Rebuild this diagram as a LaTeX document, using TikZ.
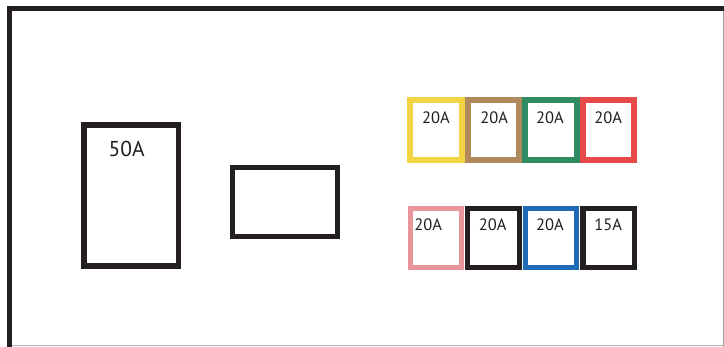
\documentclass[tikz,border=0pt]{standalone}
\usepackage{fontspec}
\setmainfont{PT Sans}
\definecolor{frameblack}{HTML}{231F20}
\definecolor{fyellow}{HTML}{F2D544}
\definecolor{fbrown}{HTML}{B08A5C}
\definecolor{fgreen}{HTML}{2E8B62}
\definecolor{fred}{HTML}{E84A4A}
\definecolor{fpink}{HTML}{E8959C}
\definecolor{fblue}{HTML}{1F6BB5}
\tikzset{
  fusetop/.style={draw=#1, line width=6pt, minimum width=51.5pt, minimum height=60pt, inner sep=0pt, rectangle},
  fusebot/.style={draw=#1, line width=5.3pt, minimum width=51.5pt, minimum height=59pt, inner sep=0pt, rectangle},
  fuselabel/.style={anchor=base, inner sep=0pt, font=\fontsize{16.5}{18}\selectfont, text=frameblack},
  bigbox/.style={draw=frameblack, line width=5.5pt, inner sep=0pt, rectangle}
}
\begin{document}
\begin{tikzpicture}[x=1pt,y=-1pt]
\useasboundingbox (0,0) rectangle (724,347);
\fill[white] (0,0) rectangle (724,347);
% frame
\draw[gray!75, line width=1pt] (723,11) -- (723,347);
\draw[gray!60, line width=1pt] (12,346) -- (724,346);
\draw[frameblack, line width=5pt] (9.5,347) -- (9.5,8.5) -- (724,8.5);
% big boxes
\node[bigbox, minimum width=94.7pt, minimum height=140.7pt] (main) at (131.3,195.6) {};
\node[anchor=base, inner sep=0pt, font=\fontsize{21.5}{24}\selectfont, text=frameblack] (mainlbl) at (126.7,156.7) {50A};
\node[bigbox, line width=5.3pt, minimum width=105.2pt, minimum height=69.4pt] (blank) at (284.9,202) {};
% top row fuses
\node[fusetop=fyellow] (t1) at (436,129.7) {};
\node[fusetop=fbrown] (t2) at (493.5,129.7) {};
\node[fusetop=fgreen] (t3) at (551,129.7) {};
\node[fusetop=fred] (t4) at (608.7,129.7) {};
\node[fuselabel] (t1l) at (436,123.3) {20A};
\node[fuselabel] (t2l) at (494.3,123.3) {20A};
\node[fuselabel] (t3l) at (550,123.3) {20A};
\node[fuselabel] (t4l) at (608.3,123.3) {20A};
% bottom row fuses
\node[fusebot=fpink] (b1) at (436,238) {};
\node[fusebot=frameblack] (b2) at (493.5,238) {};
\node[fusebot=fblue] (b3) at (551,238) {};
\node[fusebot=frameblack] (b4) at (608.7,238) {};
\node[fuselabel] (b1l) at (428.3,230.7) {20A};
\node[fuselabel] (b2l) at (492.7,230.7) {20A};
\node[fuselabel] (b3l) at (550,230.7) {20A};
\node[fuselabel] (b4l) at (608.3,230.7) {15A};
\end{tikzpicture}
\end{document}
